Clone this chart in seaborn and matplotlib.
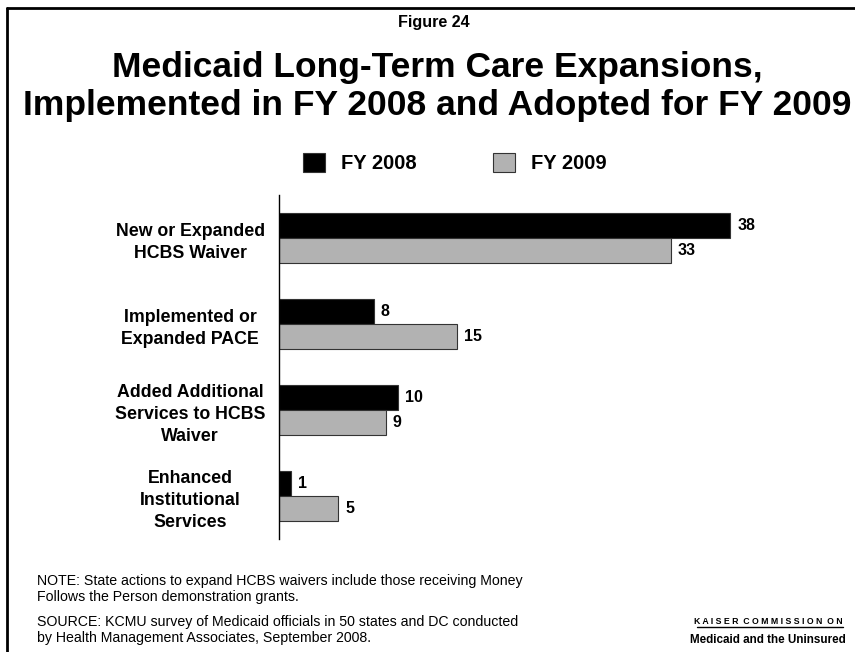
import matplotlib
matplotlib.use("Agg")
import matplotlib.pyplot as plt
import matplotlib.lines as mlines
import seaborn as sns
import pandas as pd

categories = [
    "New or Expanded\nHCBS Waiver",
    "Implemented or\nExpanded PACE",
    "Added Additional\nServices to HCBS\nWaiver",
    "Enhanced\nInstitutional\nServices",
]
fy2008 = [38, 8, 10, 1]
fy2009 = [33, 15, 9, 5]
series_names = ["FY 2008", "FY 2009"]

df = pd.DataFrame({
    "category": categories * 2,
    "value": fy2008 + fy2009,
    "year": [series_names[0]] * len(categories) + [series_names[1]] * len(categories),
})

sns.set_theme(style="white")
plt.rcParams["font.family"] = ["Liberation Sans", "DejaVu Sans"]
plt.rcParams["text.color"] = "black"
plt.rcParams["ytick.labelcolor"] = "black"

W, H = 855, 652
fig = plt.figure(figsize=(W / 100, H / 100), dpi=100)
ax = fig.add_axes([279 / W, 1 - 539 / H, (754 - 279) / W, (539 - 195) / H])

palette = {"FY 2008": "#000000", "FY 2009": "#B2B2B2"}
sns.barplot(data=df, y="category", x="value", hue="year", orient="h",
            palette=palette, width=0.58, gap=0, saturation=1,
            edgecolor="#333333", linewidth=0.8, ax=ax, legend=False)

ax.set_xlim(0, 40)
ax.set_ylim(3.5, -0.5)
ax.set_xlabel("")
ax.set_ylabel("")
ax.set_xticks([])
for s in ["top", "right", "bottom"]:
    ax.spines[s].set_visible(False)
ax.spines["left"].set_color("black")
ax.spines["left"].set_linewidth(1.0)

ax.tick_params(axis="y", length=0, pad=64)
for lbl in ax.get_yticklabels():
    lbl.set_fontweight("bold")
    lbl.set_fontsize(12.8)
    lbl.set_ha("center")
    lbl.set_multialignment("center")
    lbl.set_linespacing(1.4)

for cont in ax.containers:
    ax.bar_label(cont, labels=[f"{int(v)}" for v in cont.datavalues],
                 padding=5, fontsize=11.5, fontweight="bold", color="black")

# Legend
handles = [plt.Rectangle((0, 0), 1, 1, facecolor=palette[n], edgecolor="#333333", linewidth=0.8)
           for n in series_names]
fig.legend(handles, series_names, loc="center", bbox_to_anchor=(455 / W, 1 - 163 / H),
           ncol=2, frameon=False, prop={"weight": "bold", "size": 14.5},
           handlelength=1.09, handleheight=1.09, handletextpad=0.8, columnspacing=3.8)

# Titles
fig.text(434 / W, 1 - 22 / H, "Figure 24", ha="center", va="center",
         fontsize=11.6, fontweight="bold")
fig.text(437 / W, 1 - 68 / H, "Medicaid Long-Term Care Expansions,", ha="center",
         va="center", fontsize=25.5, fontweight="bold")
fig.text(437 / W, 1 - 105 / H, "Implemented in FY 2008 and Adopted for FY 2009",
         ha="center", va="center", fontsize=25.5, fontweight="bold")

# Notes
fig.text(37 / W, 1 - 589 / H,
         "NOTE: State actions to expand HCBS waivers include those receiving Money\n"
         "Follows the Person demonstration grants.",
         ha="left", va="center", fontsize=10.2, linespacing=1.2)
fig.text(37 / W, 1 - 630 / H,
         "SOURCE: KCMU survey of Medicaid officials in 50 states and DC conducted\n"
         "by Health Management Associates, September 2008.",
         ha="left", va="center", fontsize=10.2, linespacing=1.2)

# Logo text
fig.text(843 / W, 1 - 621 / H, "K A I S E R  C O M M I S S I O N  O N",
         ha="right", va="center", fontsize=6.3, fontweight="bold")
fig.add_artist(mlines.Line2D([697 / W, 843 / W], [1 - 627 / H, 1 - 627 / H],
                             color="black", linewidth=1))
fig.text(846 / W, 1 - 640 / H, "Medicaid and the Uninsured",
         ha="right", va="center", fontsize=8.4, fontweight="heavy")

# Frame
fig.add_artist(mlines.Line2D([7 / W, 1], [1 - 8 / H, 1 - 8 / H], color="black", linewidth=2))
fig.add_artist(mlines.Line2D([7 / W, 7 / W], [0, 1 - 8 / H], color="black", linewidth=2))

fig.savefig("out.png", dpi=100)
